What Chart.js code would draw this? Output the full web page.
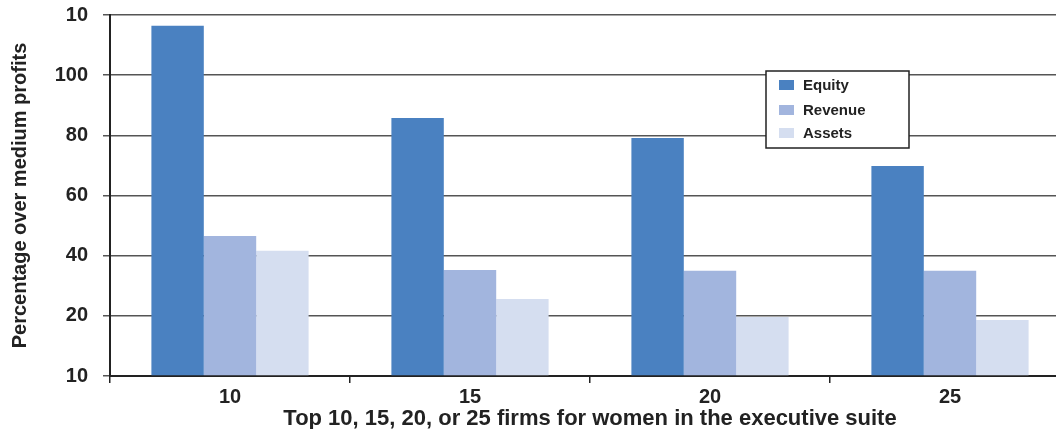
<!DOCTYPE html>
<html>
<head>
<meta charset="utf-8">
<script src="https://cdn.jsdelivr.net/npm/chart.js@4/dist/chart.umd.min.js"></script>
<style>
  html, body { margin: 0; padding: 0; background: #fff; }
  #wrap { width: 1056px; height: 429px; overflow: hidden; position: relative; }
  #box { width: 1072px; height: 429px; }
</style>
</head>
<body>
<div id="wrap"><div id="box"><canvas id="grafico"></canvas></div></div>
<script>
// Datos del gráfico
const categorias = ['10', '15', '20', '25'];
const equity = [116.4, 85.8, 79.1, 69.8];
const revenue = [46.5, 35.2, 35.0, 35.0];
const assets = [41.6, 25.6, 19.6, 18.6];
// etiquetas del eje y tal como aparecen en la imagen
const etiquetasY = ['10', '20', '40', '60', '80', '100', '10'];

const fuente = '"Liberation Sans", Arial, Helvetica, sans-serif';
const colorTexto = '#222';

// Leyenda con borde dibujada a mano
const leyendaCaja = {
  id: 'leyendaCaja',
  afterDraw(chart) {
    const c = chart.ctx;
    const x = 766, y = 71, w = 143, h = 77;
    c.save();
    c.fillStyle = '#fff';
    c.fillRect(x, y, w, h);
    c.strokeStyle = '#222';
    c.lineWidth = 1.5;
    c.strokeRect(x, y, w, h);
    const filas = [85, 110, 133];
    c.font = 'bold 15px ' + fuente;
    c.textBaseline = 'middle';
    chart.data.datasets.forEach((ds, i) => {
      c.fillStyle = ds.backgroundColor;
      c.fillRect(x + 13, filas[i] - 5, 15, 10);
      c.fillStyle = colorTexto;
      c.fillText(ds.label, x + 37, filas[i] + 1);
    });
    c.restore();
  }
};

const ctx = document.getElementById('grafico');
new Chart(ctx, {
  type: 'bar',
  data: {
    labels: categorias,
    datasets: [
      { label: 'Equity', data: equity, backgroundColor: 'rgb(74,129,193)' },
      { label: 'Revenue', data: revenue, backgroundColor: 'rgb(162,181,222)' },
      { label: 'Assets', data: assets, backgroundColor: 'rgb(213,222,240)' }
    ]
  },
  options: {
    responsive: true,
    maintainAspectRatio: false,
    animation: false,
    datasets: { bar: { barPercentage: 1, categoryPercentage: 0.655 } },
    layout: { padding: { top: 15, right: 2, left: 8, bottom: 0 } },
    plugins: { legend: { display: false }, tooltip: { enabled: false } },
    scales: {
      x: {
        grid: { offset: true, drawOnChartArea: false, drawTicks: true, tickLength: 7, color: '#222', lineWidth: 1.5 },
        border: { display: true, color: '#222', width: 2 },
        ticks: { color: colorTexto, font: { family: fuente, size: 20, weight: 'bold' }, padding: 2 },
        title: { display: true, text: 'Top 10, 15, 20, or 25 firms for women in the executive suite',
                 color: colorTexto, font: { family: fuente, size: 22, weight: 'bold' }, padding: { top: 0, bottom: -3 } },
        afterFit(scale) { scale.height = 53; }
      },
      y: {
        min: 0,
        max: 120,
        grid: { color: '#555', lineWidth: 1.5, tickLength: 7 },
        border: { display: true, color: '#222', width: 2 },
        ticks: {
          stepSize: 20,
          padding: 15,
          color: colorTexto,
          font: { family: fuente, size: 20, weight: 'bold' },
          callback: (v, i) => etiquetasY[i]
        },
        title: { display: true, text: 'Percentage over medium profits',
                 color: colorTexto, font: { family: fuente, size: 20, weight: 'bold' }, padding: { top: 0, bottom: 0 } },
        afterFit(scale) { scale.width = 102; scale.paddingTop = 0; scale.paddingBottom = 0; }
      }
    }
  },
  plugins: [leyendaCaja]
});
</script>
</body>
</html>
